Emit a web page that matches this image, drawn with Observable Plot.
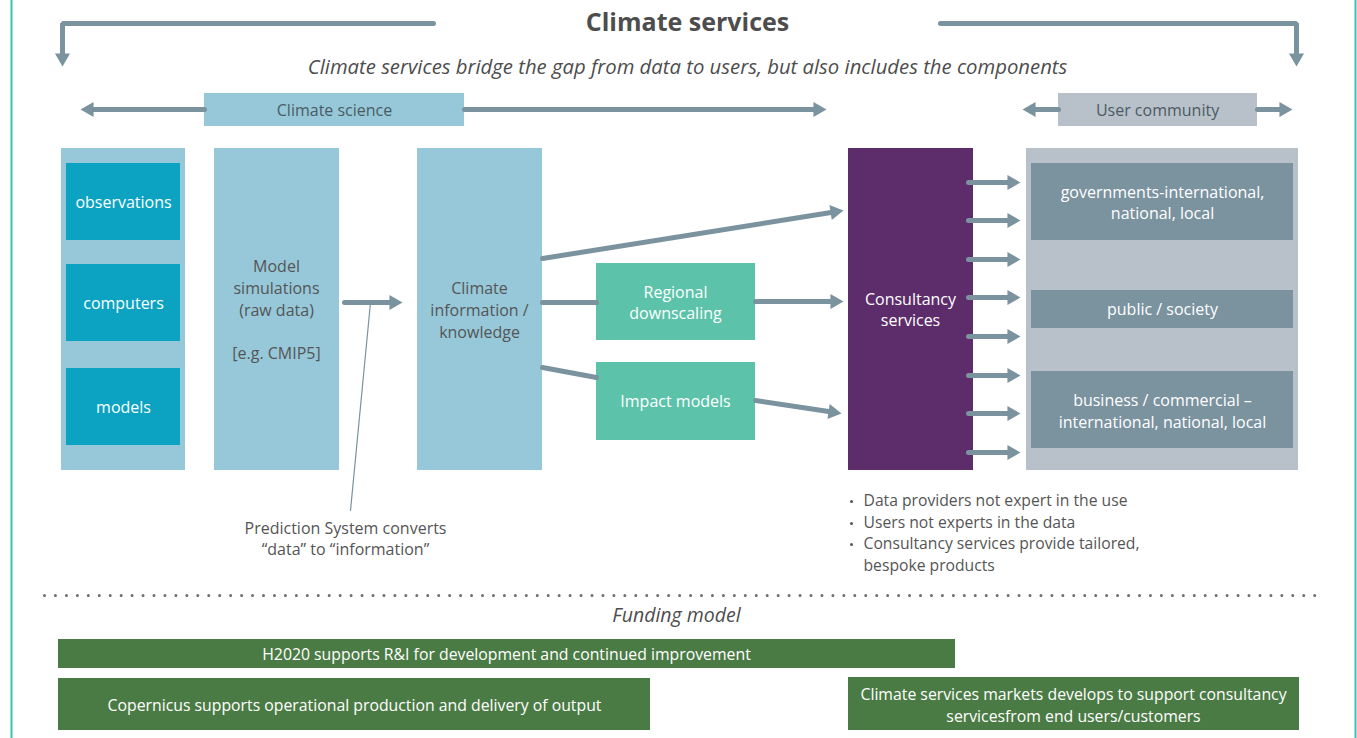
<!DOCTYPE html>
<html>
<head>
<meta charset="utf-8">
<script src="https://cdn.jsdelivr.net/npm/d3@7"></script>
<script src="https://cdn.jsdelivr.net/npm/@observablehq/plot@0.6"></script>
<style>
  html, body { margin: 0; padding: 0; background: #ffffff; }
  #chart svg { display: block; }
</style>
</head>
<body>
<div id="chart"></div>
<script>
// ---------- content ----------
const title = "Climate services";
const subtitle = "Climate services bridge the gap from data to users, but also includes the components";
const bandLabels = ["Climate science", "User community"];
const dataSources = ["observations", "computers", "models"];
const columnLabels = ["Model\nsimulations\n(raw data)\n\n[e.g. CMIP5]", "Climate\ninformation /\nknowledge"];
const processLabels = ["Regional\ndownscaling", "Impact models"];
const consultancyLabel = "Consultancy\nservices";
const userGroups = ["governments-international,\nnational, local", "public / society", "business / commercial –\ninternational, national, local"];
const predictionNote = "Prediction System converts\n“data” to “information”";
const bulletNotes = ["Data providers not expert in the use", "Users not experts in the data", "Consultancy services provide tailored,\nbespoke products"];
const fundingTitle = "Funding model";
const fundingLabels = ["H2020 supports R&I for development and continued improvement", "Copernicus supports operational production and delivery of output", "Climate services markets develops to support consultancy\nservicesfrom end users/customers"];

// ---------- layout (diagram geometry, pixels) ----------
const C = {
  lightBlue: "#96c8d9", teal: "#0ca3c2", mint: "#5cc3aa", purple: "#5c2d6a",
  userBg: "#b8c0c9", userBox: "#7b929f", arrow: "#7b929f", green: "#4b7b45",
  text: "#555555", border: "#40bfb7"
};

const rects = [
  {x1: 204, x2: 464, y1: 93, y2: 126, fill: C.lightBlue},
  {x1: 1058, x2: 1257, y1: 93, y2: 126, fill: C.userBg},
  {x1: 61, x2: 185, y1: 148, y2: 470, fill: C.lightBlue},
  {x1: 66, x2: 180, y1: 163, y2: 240, fill: C.teal},
  {x1: 66, x2: 180, y1: 264, y2: 341, fill: C.teal},
  {x1: 66, x2: 180, y1: 368, y2: 445, fill: C.teal},
  {x1: 214, x2: 339, y1: 148, y2: 470, fill: C.lightBlue},
  {x1: 417, x2: 542, y1: 148, y2: 470, fill: C.lightBlue},
  {x1: 596, x2: 755, y1: 263, y2: 340, fill: C.mint},
  {x1: 596, x2: 755, y1: 362, y2: 440, fill: C.mint},
  {x1: 848, x2: 973, y1: 148, y2: 470, fill: C.purple},
  {x1: 1026, x2: 1298, y1: 148, y2: 470, fill: C.userBg},
  {x1: 1031, x2: 1293, y1: 163, y2: 240, fill: C.userBox},
  {x1: 1031, x2: 1293, y1: 290, y2: 328, fill: C.userBox},
  {x1: 1031, x2: 1293, y1: 371, y2: 448, fill: C.userBox},
  {x1: 58, x2: 955, y1: 639, y2: 668, fill: C.green},
  {x1: 58, x2: 650, y1: 678, y2: 730, fill: C.green},
  {x1: 848, x2: 1299, y1: 677, y2: 730, fill: C.green}
];

// arrows: polylines with a filled head at the last point (head: true)
const HEAD_R = 5.6;              // triangle dot radius
const HEAD_H = HEAD_R * 2.333;   // triangle height
const arrowPaths = [
  {id: "bracketL", pts: [[433, 23], [62, 23], [62, 66]], head: true},
  {id: "bracketR", pts: [[940, 23], [1296, 23], [1296, 66]], head: true},
  {id: "sciL", pts: [[204, 109], [80, 109]], head: true},
  {id: "sciR", pts: [[464, 109], [826, 109]], head: true},
  {id: "userL", pts: [[1058, 109], [1022, 109]], head: true},
  {id: "userR", pts: [[1257, 109], [1292, 109]], head: true},
  {id: "model", pts: [[344, 302], [402, 302]], head: true},
  {id: "infoTop", pts: [[542, 258], [843, 210]], head: true},
  {id: "infoReg", pts: [[542, 302], [596, 302]], head: false},
  {id: "regCons", pts: [[755, 301], [843, 301]], head: true},
  {id: "infoImp", pts: [[542, 367], [596, 377]], head: false},
  {id: "impCons", pts: [[755, 400], [841, 413]], head: true},
  ...[182, 220, 259, 297, 336, 375, 413, 452].map((y, i) => ({id: "out" + i, pts: [[968, y], [1020, y]], head: true}))
];

// shorten each shaft so it ends inside the head; build line rows and head rows
const shaftRows = [];
const headRows = [];
for (const a of arrowPaths) {
  const pts = a.pts.map(p => p.slice());
  if (a.head) {
    const [xa, ya] = pts[pts.length - 2];
    const [xb, yb] = pts[pts.length - 1];
    const len = Math.hypot(xb - xa, yb - ya);
    const ux = (xb - xa) / len, uy = (yb - ya) / len;
    headRows.push({
      x: xb - ux * HEAD_H * 2 / 3,
      y: yb - uy * HEAD_H * 2 / 3,
      rotate: Math.atan2(uy, ux) * 180 / Math.PI + 90
    });
    pts[pts.length - 1] = [xb - ux * HEAD_H * 0.6, yb - uy * HEAD_H * 0.6];
  }
  for (const [x, y] of pts) shaftRows.push({id: a.id, x, y});
}

const labels = [
  {x: 334, y: 109, text: bandLabels[0], fill: "#4b5b62", size: 16},
  {x: 1157, y: 109, text: bandLabels[1], fill: "#4b5b62", size: 16},
  {x: 123, y: 201, text: dataSources[0], fill: "#ffffff", size: 16},
  {x: 123, y: 302, text: dataSources[1], fill: "#ffffff", size: 16},
  {x: 123, y: 406, text: dataSources[2], fill: "#ffffff", size: 16},
  {x: 276, y: 308.5, text: columnLabels[0], fill: C.text, size: 16},
  {x: 479, y: 308.5, text: columnLabels[1], fill: C.text, size: 16},
  {x: 675, y: 301, text: processLabels[0], fill: "#ffffff", size: 16},
  {x: 675, y: 400, text: processLabels[1], fill: "#ffffff", size: 16},
  {x: 910, y: 308, text: consultancyLabel, fill: "#ffffff", size: 16},
  {x: 1162, y: 201, text: userGroups[0], fill: "#ffffff", size: 16},
  {x: 1162, y: 308, text: userGroups[1], fill: "#ffffff", size: 16},
  {x: 1162, y: 409.5, text: userGroups[2], fill: "#ffffff", size: 16},
  {x: 345, y: 537, text: predictionNote, fill: C.text, size: 16},
  {x: 506, y: 653, text: fundingLabels[0], fill: "#ffffff", size: 15.8},
  {x: 354, y: 704, text: fundingLabels[1], fill: "#ffffff", size: 15.8},
  {x: 1073, y: 703.5, text: fundingLabels[2], fill: "#ffffff", size: 15.8}
];

// bullet notes: each line on its own row; only the first line of a note gets a bullet
const bulletStartY = [500, 522, 543];
const bulletLineRows = [];
const bulletDotRows = [];
bulletNotes.forEach((note, i) => {
  note.split("\n").forEach((line, j) => {
    const y = bulletStartY[i] + j * 22;
    bulletLineRows.push({y, text: line});
    if (j === 0) bulletDotRows.push({y});
  });
});

const FONT = "'Open Sans', 'Noto Sans', sans-serif";

const chart = Plot.plot({
  width: 1357,
  height: 738,
  margin: 0,
  x: {domain: [0, 1357], range: [0, 1357], axis: null},
  y: {domain: [0, 738], range: [0, 738], axis: null},
  style: {background: "#ffffff", fontFamily: FONT},
  marks: [
    // side borders
    Plot.ruleX([11, 1355], {stroke: C.border, strokeWidth: 2}),
    // boxes
    Plot.rect(rects, {x1: "x1", x2: "x2", y1: "y1", y2: "y2", fill: "fill"}),
    // annotation pointer
    Plot.line([{x: 370, y: 302}, {x: 350, y: 510}], {x: "x", y: "y", stroke: C.arrow, strokeWidth: 1.2}),
    // arrow shafts
    Plot.line(shaftRows, {x: "x", y: "y", z: "id", stroke: C.arrow, strokeWidth: 5, strokeLinejoin: "miter"}),
    // arrow heads
    Plot.dot(headRows, {x: "x", y: "y", rotate: "rotate", symbol: "triangle", r: HEAD_R, fill: C.arrow, stroke: "none"}),
    // dotted divider
    Plot.line([{x: 44, y: 595}, {x: 1316, y: 595}], {x: "x", y: "y", stroke: "#6d6d6d", strokeWidth: 3, strokeLinecap: "round", strokeDasharray: "0,10.95"}),
    // titles
    Plot.text([title], {x: 687, y: 22, text: d => d, fontSize: 25, fontWeight: "bold", fill: "#4d4d4d"}),
    Plot.text([subtitle], {x: 687, y: 67, text: d => d, fontSize: 20.3, fontStyle: "italic", fill: "#4d4d4d"}),
    Plot.text([fundingTitle], {x: 676, y: 615, text: d => d, fontSize: 19.5, fontStyle: "italic", fill: "#4d4d4d"}),
    // box and note labels
    Plot.text(labels, {x: "x", y: "y", text: "text", fill: "fill", fontSize: "size", lineHeight: 1.36}),
    // bullets
    Plot.dot(bulletDotRows, {x: 851, y: d => d.y + 1, r: 1.5, fill: C.text, stroke: "none"}),
    Plot.text(bulletLineRows, {x: 863, y: "y", text: "text", fill: C.text, fontSize: 15.7, textAnchor: "start"})
  ]
});
document.getElementById("chart").append(chart);
</script>
</body>
</html>
